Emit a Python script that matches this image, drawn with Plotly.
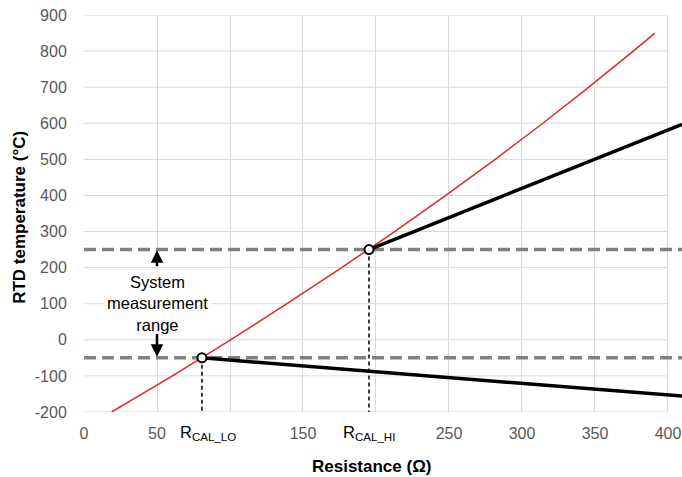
import plotly.graph_objects as go

# Pt100 RTD curve (resistance in ohm vs temperature in degC)
rtd_temp = [-200, -100, 0, 100, 200, 300, 400, 500, 600, 700, 800, 850]
rtd_res = [18.9, 60.6, 100.4, 139.0, 176.5, 212.8, 247.8, 281.6, 314.3, 345.8, 376.2, 391.0]

# calibration points
cal_res = [80.8, 195.2]
cal_temp = [-50, 250]
cal_labels = ["R<sub>CAL_LO</sub>", "R<sub>CAL_HI</sub>"]

# system response lines beyond calibration points
lo_line_res = [80.8, 409.6]
lo_line_temp = [-50, -156]
hi_line_res = [195.2, 409.6]
hi_line_temp = [250, 597]

x_ticks = [0, 50, 100, 150, 200, 250, 300, 350, 400]
x_ticktext = ["0", "50", "", "150", "", "250", "300", "350", "400"]
y_ticks = [-200, -100, 0, 100, 200, 300, 400, 500, 600, 700, 800, 900]
y_ticktext = ["-200", "-100", "0", "100", "200", "300", "400", "500", "600", "700", "800", "900"]

X_MAX = 409.6
GRID = "#d9d9d9"
FONT = "Liberation Sans, Arial, sans-serif"
TICK_COLOR = "#595959"

fig = go.Figure()

# horizontal gridlines (stop at x=400)
shapes = []
for yv in y_ticks:
    shapes.append(dict(type="line", xref="x", yref="y", x0=0, x1=400, y0=yv, y1=yv,
                       line=dict(color=GRID, width=1), layer="below"))

# dashed range lines
for yv in cal_temp:
    fig.add_trace(go.Scatter(x=[0, X_MAX], y=[yv, yv], mode="lines",
                             line=dict(color="#808080", width=3.5, dash="12px,6px"),
                             hoverinfo="skip", showlegend=False))

# vertical dashed drop lines
for xv, yv in zip(cal_res, cal_temp):
    fig.add_trace(go.Scatter(x=[xv, xv], y=[yv, -200], mode="lines",
                             line=dict(color="black", width=1.5, dash="4px,3px"),
                             hoverinfo="skip", showlegend=False))

# RTD curve
fig.add_trace(go.Scatter(x=rtd_res, y=rtd_temp, mode="lines",
                         line=dict(color="#e3262b", width=1.5), showlegend=False))

# black system lines
fig.add_trace(go.Scatter(x=lo_line_res, y=lo_line_temp, mode="lines",
                         line=dict(color="black", width=3.5), showlegend=False))
fig.add_trace(go.Scatter(x=hi_line_res, y=hi_line_temp, mode="lines",
                         line=dict(color="black", width=3.5), showlegend=False))

# calibration markers
fig.add_trace(go.Scatter(x=cal_res, y=cal_temp, mode="markers",
                         marker=dict(color="white", size=9, line=dict(color="black", width=2)),
                         cliponaxis=False, showlegend=False))

annotations = []
annotations.append(dict(x=50, y=100, xref="x", yref="y", text="System<br>measurement<br>range",
                        showarrow=False, bgcolor="white", borderpad=3,
                        font=dict(family=FONT, size=16.5, color="black")))
# arrows
annotations.append(dict(x=50, y=248, ax=50, ay=200, xref="x", yref="y", axref="x", ayref="y",
                        text="", showarrow=True, arrowhead=2, arrowsize=1, arrowwidth=2.5,
                        arrowcolor="black"))
annotations.append(dict(x=50, y=-47, ax=50, ay=20, xref="x", yref="y", axref="x", ayref="y",
                        text="", showarrow=True, arrowhead=2, arrowsize=1, arrowwidth=2.5,
                        arrowcolor="black"))
# R labels
for xv, lab, xs in zip(cal_res, cal_labels, [6, 0]):
    annotations.append(dict(x=xv, y=0, xref="x", yref="paper", text=lab, showarrow=False,
                            yanchor="top", yshift=-9, xshift=xs,
                            font=dict(family=FONT, size=16.5, color="black")))
# axis titles
annotations.append(dict(x=0.5, y=0, xref="paper", yref="paper", text="<b>Resistance (Ω)</b>",
                        showarrow=False, yanchor="middle", yshift=-54, xshift=-12,
                        font=dict(family=FONT, size=17, color="black")))
annotations.append(dict(x=0, y=0.489, xref="paper", yref="paper",
                        text="<b>RTD temperature (°C)</b>", textangle=-90,
                        showarrow=False, xanchor="center", yanchor="middle", xshift=-64,
                        font=dict(family=FONT, size=17, color="black")))

fig.update_layout(
    width=682, height=477,
    margin=dict(l=84, r=0, t=15, b=65),
    plot_bgcolor="white", paper_bgcolor="white",
    font=dict(family=FONT, size=16, color=TICK_COLOR),
    shapes=shapes, annotations=annotations,
    xaxis=dict(range=[0, X_MAX], tickvals=x_ticks, ticktext=x_ticktext,
               showgrid=True, gridcolor=GRID, gridwidth=1, zeroline=False,
               ticks="outside", ticklen=7, tickcolor="rgba(0,0,0,0)",
               tickfont=dict(family=FONT, size=16, color=TICK_COLOR)),
    yaxis=dict(range=[-200, 900], tickvals=y_ticks, ticktext=y_ticktext,
               showgrid=False, zeroline=False,
               ticks="outside", ticklen=13, tickcolor="rgba(0,0,0,0)",
               tickfont=dict(family=FONT, size=16, color=TICK_COLOR)),
)

fig.write_html("out.html", config={"displayModeBar": False},
               post_script="document.body.style.margin='0';document.body.style.overflow='hidden';")
